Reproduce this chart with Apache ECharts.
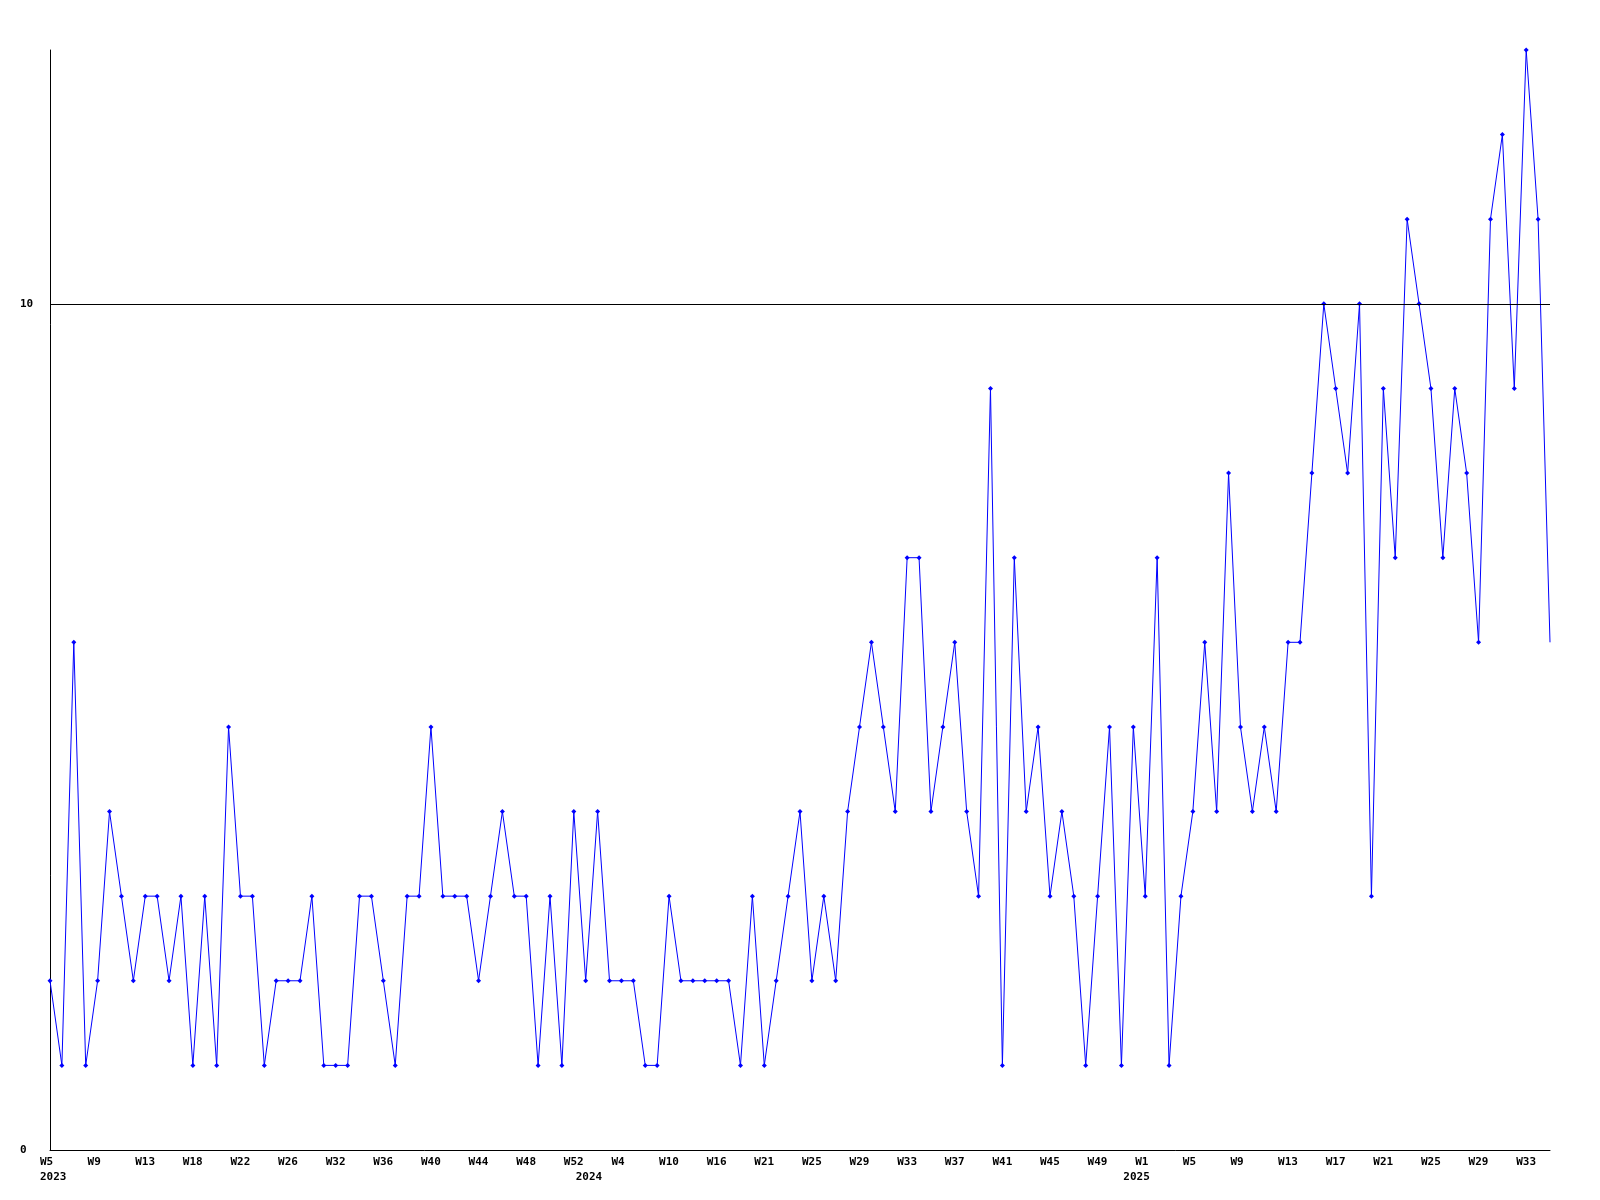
<!DOCTYPE html>
<html>
<head>
<meta charset="utf-8">
<style>
  html, body { margin: 0; padding: 0; background: #ffffff; }
  #chart { width: 1600px; height: 1200px; }
</style>
<script src="https://cdn.jsdelivr.net/npm/echarts@6/dist/echarts.min.js"></script>
</head>
<body>
<div id="chart"></div>
<script>
// Week categories (one per point)
const weekLabels = [
  // 2023
  'W5','W6','W7','W8','W9','W10','W11','W12','W13','W14','W15','W16','W18','W19','W20','W21','W22','W23','W24','W25','W26','W27','W28','W29','W32','W33','W34','W35','W36','W37','W38','W39','W40','W41','W42','W43','W44','W45','W46','W47','W48','W49','W50','W51','W52',
  // 2024
  'W1','W2','W3','W4','W5','W6','W8','W10','W11','W12','W14','W16','W17','W18','W20','W21','W22','W23','W24','W25','W26','W27','W28','W29','W30','W31','W32','W33','W34','W35','W36','W37','W38','W39','W40','W41','W42','W43','W44','W45','W46','W47','W48','W49','W50','W51','W52',
  // 2025
  'W1','W2','W3','W4','W5','W6','W7','W8','W9','W10','W11','W12','W13','W14','W15','W16','W17','W18','W19','W20','W21','W22','W23','W24','W25','W26','W27','W28','W29','W30','W31','W32','W33','W34','W35'
];

// Year labels (second row) and the category index under which each is drawn
const yearNames = ['2023', '2024', '2025'];
const yearLabelIndex = [0, 45, 91];

// Values per week
const values = [
  2,1,6,1,2,4,3,2,3,3,2,3,1,3,1,5,3,3,1,2,2,2,3,1,1,1,3,3,2,1,3,3,5,3,
  3,3,2,3,4,3,3,1,3,1,4,2,4,2,2,2,1,1,3,2,2,2,2,2,1,3,1,2,3,4,2,3,2,
  4,5,6,5,4,7,7,4,5,6,4,3,9,1,7,4,5,3,4,3,1,3,5,1,5,3,7,1,3,4,6,4,8,5,
  4,5,4,6,6,8,10,9,8,10,3,9,7,11,10,9,7,9,8,6,11,12,9,13,11,6
];

// Y axis settings
const yMin = 0, yMax = 13, yInterval = 10;
const referenceLine = 10;
const weekLabelStep = 4;

const FONT = '"DejaVu Sans Mono", "Liberation Mono", monospace';

function yearAt(idx) {
  const k = yearLabelIndex.indexOf(idx);
  return k >= 0 ? yearNames[k] : '';
}

const chart = echarts.init(document.getElementById('chart'), null, { renderer: 'canvas' });
const lastIdx = values.length - 1;

chart.setOption({
  animation: false,
  backgroundColor: '#ffffff',
  grid: { left: 50, right: 50, top: 50, bottom: 50, containLabel: false },
  xAxis: {
    type: 'category',
    data: weekLabels,
    boundaryGap: false,
    axisLine: { show: true, lineStyle: { color: '#000000', width: 1 } },
    axisTick: { show: false },
    splitLine: { show: false },
    axisLabel: {
      show: true,
      interval: function (idx) {
        return idx % weekLabelStep === 0 || yearLabelIndex.indexOf(idx) >= 0;
      },
      formatter: function (val, idx) {
        const top = idx % weekLabelStep === 0 ? val : ' ';
        const yr = yearAt(idx) || ' ';
        return '{w|' + top + '}\n{w|' + yr + '}';
      },
      width: 20,
      overflow: 'none',
      align: 'center',
      margin: 5,
      rich: {
        w: {
          align: 'left',
          fontFamily: FONT,
          fontWeight: 'bold',
          fontSize: 11,
          lineHeight: 15,
          color: '#000000'
        }
      }
    }
  },
  yAxis: {
    type: 'value',
    min: yMin,
    max: yMax,
    interval: yInterval,
    axisLine: { show: true, lineStyle: { color: '#000000', width: 1 } },
    axisTick: { show: false },
    splitLine: { show: false },
    axisLabel: {
      show: true,
      showMaxLabel: false,
      margin: 30,
      align: 'left',
      fontFamily: FONT,
      fontWeight: 'bold',
      fontSize: 11,
      color: '#000000',
      formatter: function (v) { return (v % yInterval === 0) ? String(v) : ''; }
    }
  },
  series: [{
    type: 'line',
    data: values,
    smooth: false,
    symbol: function (v, p) { return p.dataIndex === lastIdx ? 'none' : 'diamond'; },
    symbolSize: 5,
    showAllSymbol: true,
    lineStyle: { color: '#0000ff', width: 1 },
    itemStyle: { color: '#0000ff', borderWidth: 0 },
    emphasis: { disabled: true },
    markLine: {
      silent: true,
      symbol: 'none',
      label: { show: false },
      lineStyle: { color: '#000000', type: 'solid', width: 1 },
      emphasis: { disabled: true },
      data: [{ yAxis: referenceLine }]
    },
    z: 3
  }]
});
</script>
</body>
</html>
